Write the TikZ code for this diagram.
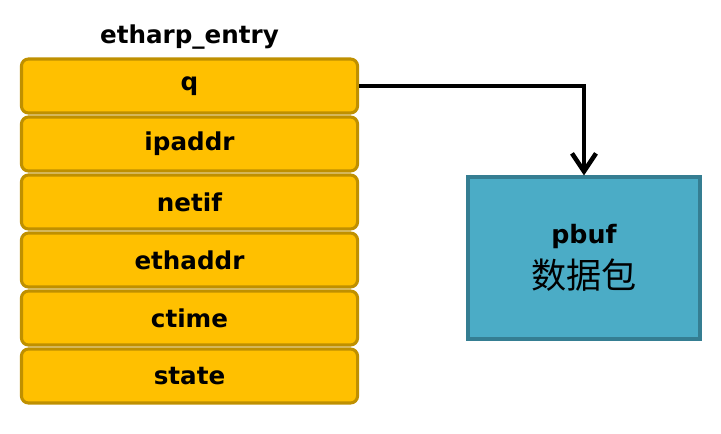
\documentclass[tikz,border=0pt]{standalone}
\usepackage{fontspec}
\setmainfont{DejaVu Sans}
\newfontfamily\cjkfont{Noto Sans CJK SC}
\usetikzlibrary{arrows.meta,positioning}
\definecolor{fld}{HTML}{FFC000}
\definecolor{flde}{HTML}{BF9000}
\definecolor{buf}{HTML}{4BACC6}
\definecolor{bufe}{HTML}{357E92}
\tikzset{
  fldb/.style={draw=flde, line width=2.2pt, rounded corners=5pt, fill=fld,
               minimum width=8.4cm, minimum height=1.35cm,
               font=\fontsize{17.5}{20}\selectfont\bfseries},
  bufb/.style={draw=bufe, line width=2.2pt, fill=buf, minimum width=5.8cm,
               minimum height=4.05cm, align=center,
               font=\fontsize{18}{30}\selectfont\bfseries},
  ar/.style={-{Straight Barb[length=4.5mm,width=6mm]}, line width=3.2pt},
  ttl/.style={font=\fontsize{17.5}{20}\selectfont\bfseries},
}
\begin{document}
\begin{tikzpicture}[x=0.025cm, y=-0.025cm]
  \useasboundingbox (0,0) rectangle (721,433);
  % fields of the entry, stacked top to bottom
  \foreach \nm [count=\i] in {q,ipaddr,netif,ethaddr,ctime,state}
    \node[fldb] (\nm) at (189.5,{28+58*\i}) {\nm};
  \node[ttl] (title) at (189.5,37) {etharp\_entry};

  \node[bufb] (pbuf) at (584,258)
       {pbuf\\[2pt]{\cjkfont\mdseries\fontsize{25}{30}\selectfont 数据包}};

  \draw[ar] (q.east) -| (pbuf.north);
\end{tikzpicture}
\end{document}
